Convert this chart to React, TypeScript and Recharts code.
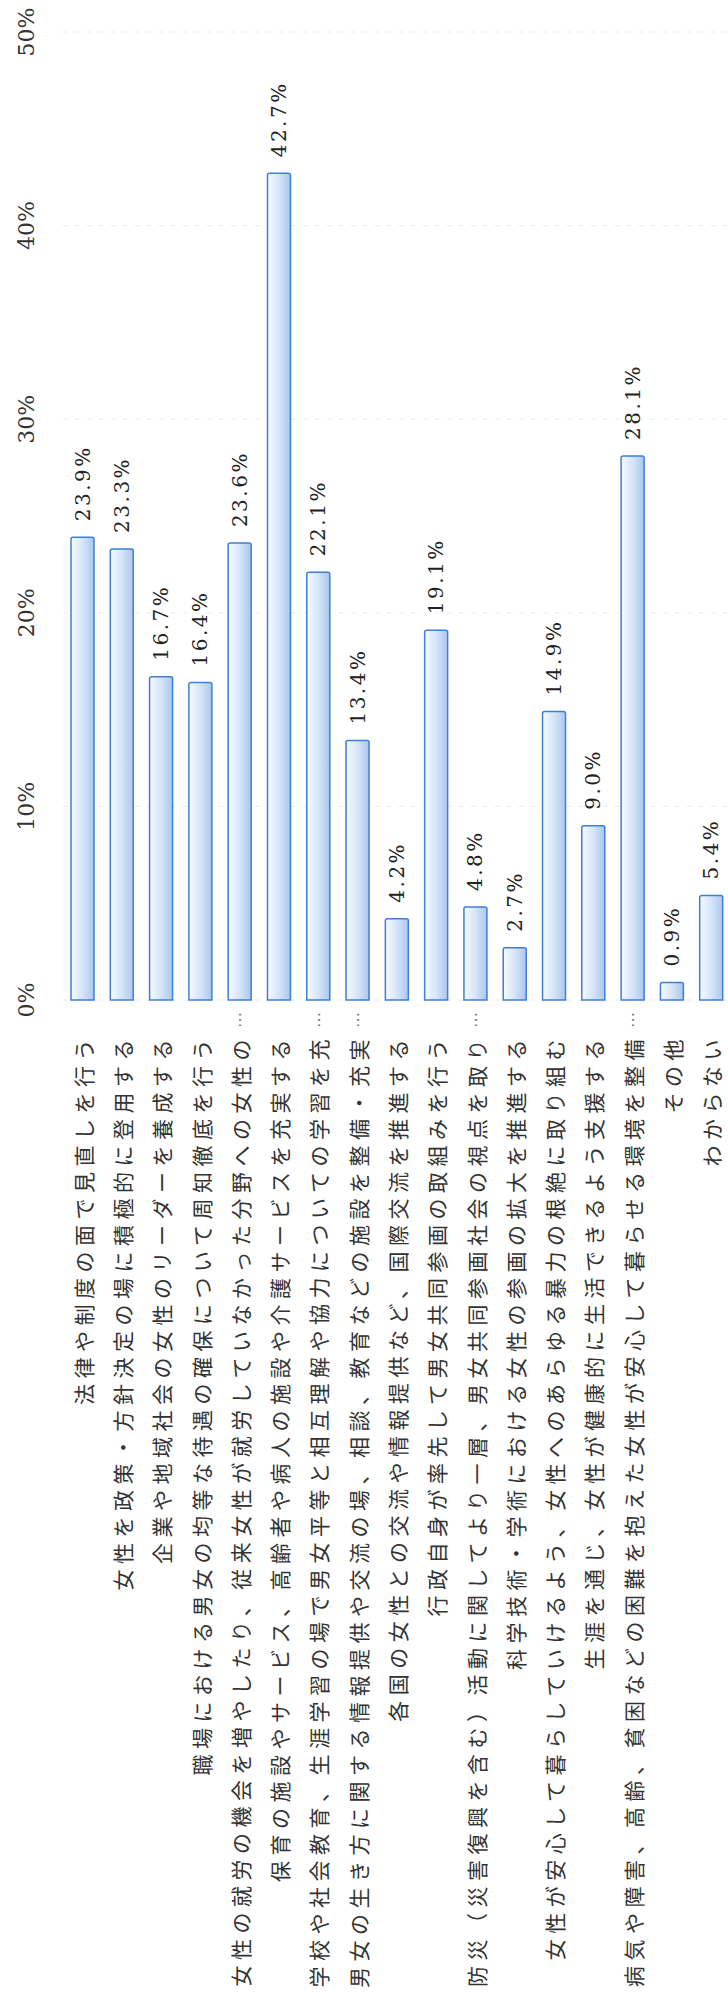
import { BarChart, Bar, XAxis, YAxis, CartesianGrid, LabelList } from 'recharts'

// 回答項目（長いものは「…」で省略）
const categories = [
  '法律や制度の面で見直しを行う',
  '女性を政策・方針決定の場に積極的に登用する',
  '企業や地域社会の女性のリーダーを養成する',
  '職場における男女の均等な待遇の確保について周知徹底を行う',
  '女性の就労の機会を増やしたり、従来女性が就労していなかった分野への女性の…',
  '保育の施設やサービス、高齢者や病人の施設や介護サービスを充実する',
  '学校や社会教育、生涯学習の場で男女平等と相互理解や協力についての学習を充…',
  '男女の生き方に関する情報提供や交流の場、相談、教育などの施設を整備・充実…',
  '各国の女性との交流や情報提供など、国際交流を推進する',
  '行政自身が率先して男女共同参画の取組みを行う',
  '防災（災害復興を含む）活動に関してより一層、男女共同参画社会の視点を取り…',
  '科学技術・学術における女性の参画の拡大を推進する',
  '女性が安心して暮らしていけるよう、女性へのあらゆる暴力の根絶に取り組む',
  '生涯を通じ、女性が健康的に生活できるよう支援する',
  '病気や障害、高齢、貧困などの困難を抱えた女性が安心して暮らせる環境を整備…',
  'その他',
  'わからない',
]

const values = [23.9, 23.3, 16.7, 16.4, 23.6, 42.7, 22.1, 13.4, 4.2, 19.1, 4.8, 2.7, 14.9, 9.0, 28.1, 0.9, 5.4]

const percentTicks = [0, 10, 20, 30, 40, 50]

const data = categories.map((name, i) => ({ name, value: values[i] }))

const numFont = '"DejaVu Serif", "Liberation Serif", serif'
const jpFont = '"Noto Sans CJK JP", "Noto Sans", sans-serif'

// the chart runs right up to the window edge: drop the body margin and scrollbars
if (typeof document !== 'undefined') {
  document.documentElement.style.overflow = 'hidden'
  document.body.style.margin = '0'
}

function CategoryTick(props: any) {
  const { x, y, payload } = props
  const text: string = payload.value
  const cut = text.endsWith('…')
  const body = cut ? text.slice(0, -1) : text
  return (
    <g>
      <g transform={`translate(${x},${y + 34})`}>
        <text
          transform="rotate(-90)"
          textAnchor="end"
          dominantBaseline="central"
          fontFamily={jpFont}
          fontSize={21}
          letterSpacing={5.5}
          fill="#333"
        >
          {body}
        </text>
      </g>
      {cut && (
        <g transform={`translate(${x},${y + 20})`}>
          <text
            transform="rotate(-90)"
            textAnchor="middle"
            dominantBaseline="central"
            fontFamily='"DejaVu Sans", sans-serif'
            fontSize={16}
            fill="#777"
          >
            ⋯
          </text>
        </g>
      )}
    </g>
  )
}

function PercentTick(props: any) {
  const { y, payload } = props
  return (
    <g transform={`translate(26,${y})`}>
      <text
        transform="rotate(-90)"
        textAnchor="middle"
        dominantBaseline="central"
        fontFamily={numFont}
        fontSize={22}
        fill="#333"
      >
        {`${payload.value}%`}
      </text>
    </g>
  )
}

function ValueLabel(props: any) {
  const { x, y, width, value } = props
  return (
    <g transform={`translate(${x + width / 2},${y - 16})`}>
      <text
        transform="rotate(-90)"
        textAnchor="start"
        dominantBaseline="central"
        fontFamily={numFont}
        fontSize={20}
        letterSpacing={2.5}
        fill="#222"
      >
        {`${value.toFixed(1)}%`}
      </text>
    </g>
  )
}

export default function App() {
  return (
    <div style={{ width: 728, height: 1997, overflow: 'hidden' }}>
      <BarChart
        width={731}
        height={1989}
        data={data}
        margin={{ top: 32, right: 0, left: 0, bottom: 0 }}
        barSize={23}
      >
        <defs>
          <linearGradient id="barFill" x1="0" y1="0" x2="1" y2="0">
            <stop offset="0%" stopColor="#f7faff" />
            <stop offset="50%" stopColor="#d6e5f8" />
            <stop offset="100%" stopColor="#aac6ee" />
          </linearGradient>
        </defs>
        <CartesianGrid vertical={false} stroke="#e8e8e8" strokeDasharray="4 8" />
        <XAxis
          dataKey="name"
          interval={0}
          axisLine={false}
          tickLine={false}
          tickSize={0}
          tickMargin={0}
          height={989}
          tick={<CategoryTick />}
        />
        <YAxis
          type="number"
          domain={[0, 50]}
          ticks={percentTicks}
          width={63}
          axisLine={false}
          tickLine={false}
          tick={<PercentTick />}
        />
        <Bar
          dataKey="value"
          fill="url(#barFill)"
          stroke="#3f7fd6"
          strokeWidth={1.5}
          radius={[2, 2, 0, 0]}
          isAnimationActive={false}
        >
          <LabelList dataKey="value" content={<ValueLabel />} />
        </Bar>
      </BarChart>
    </div>
  )
}
